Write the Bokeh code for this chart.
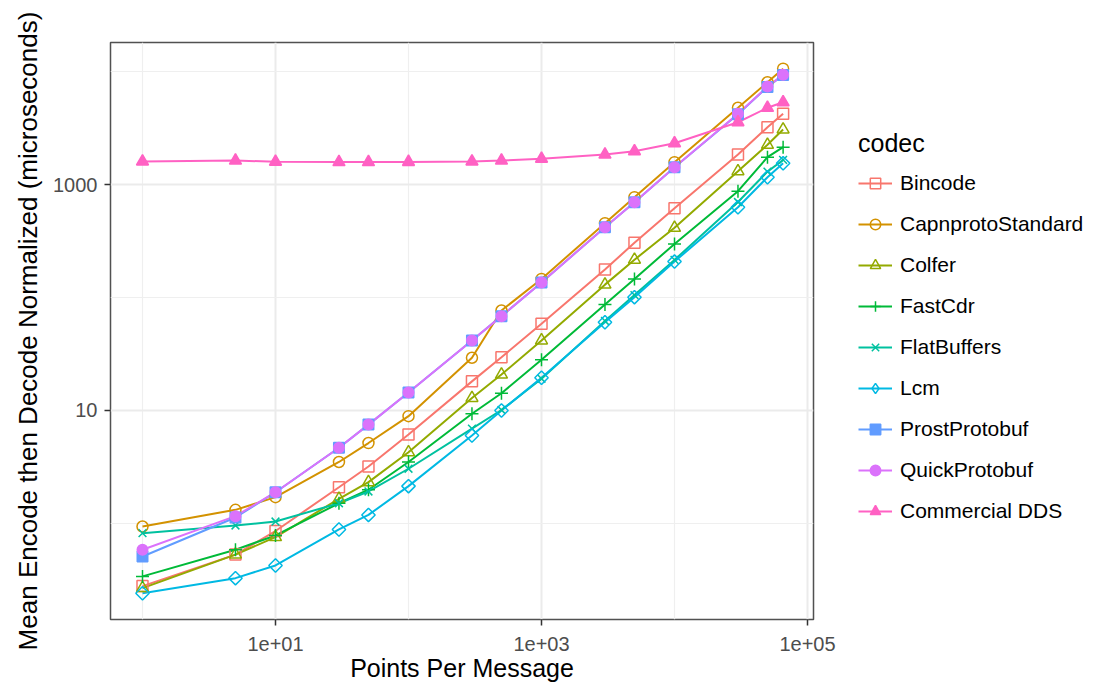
from bokeh.plotting import figure
from bokeh.models import Range1d, FixedTicker, Legend, LegendItem, Title
from bokeh.layouts import row
from bokeh.embed import file_html
from bokeh.resources import INLINE
import numpy as np

points = [1, 5, 10, 30, 50, 100, 300, 500, 1000, 3000, 5000, 10000, 30000, 50000, 65536]

codecs = ["Bincode", "CapnprotoStandard", "Colfer", "FastCdr", "FlatBuffers",
          "Lcm", "ProstProtobuf", "QuickProtobuf", "Commercial DDS"]

bincode = [0.279, 0.53, 0.857, 2.09, 3.19, 6.14, 18.1, 29.6, 58.5, 177, 305, 617, 1842, 3213, 4230]
capnproto = [0.94, 1.32, 1.71, 3.5, 5.15, 8.9, 29.3, 76.7, 146, 455, 772, 1575, 4780, 8040, 10600]
colfer = [0.268, 0.53, 0.757, 1.65, 2.32, 4.27, 12.9, 20.8, 41.7, 130, 216, 414, 1312, 2245, 3070]
fastcdr = [0.34, 0.585, 0.783, 1.51, 1.99, 3.5, 9.35, 14.2, 28.1, 86.7, 146, 298, 873, 1745, 2140]
flatbuffers = [0.82, 0.96, 1.04, 1.51, 1.92, 3.05, 6.9, 10.1, 19.1, 62, 105, 215, 700, 1300, 1650]
lcm = [0.241, 0.328, 0.425, 0.885, 1.19, 2.14, 6.0, 10.0, 19.5, 60.4, 100.7, 208, 630, 1161, 1544]
prost = [0.51, 1.13, 1.89, 4.68, 7.5, 14.4, 41.7, 68.4, 136, 419, 697, 1423, 4180, 7300, 9300]
quick = [0.585, 1.16, 1.89, 4.68, 7.5, 14.4, 41.7, 68.4, 136, 419, 697, 1423, 4230, 7360, 9350]
dds = [1600, 1630, 1590, 1580, 1580, 1585, 1600, 1630, 1690, 1842, 1971, 2319, 3556, 4776, 5348]

series = [bincode, capnproto, colfer, fastcdr, flatbuffers, lcm, prost, quick, dds]

x_ticks = [10, 1000, 100000]
x_tick_labels = ["1e+01", "1e+03", "1e+05"]
x_minor = [1, 100, 10000]
y_ticks = [10, 1000]
y_tick_labels = ["10", "1000"]
y_minor = [1, 100, 10000]

x_title = "Points Per Message"
y_title = "Mean Encode then Decode Normalized (microseconds)"

colors = ["#F8766D", "#D39200", "#93AA00", "#00BA38", "#00C19F",
          "#00B9E3", "#619CFF", "#DB72FB", "#FF61C3"]
markers = ["square", "circle", "triangle", "cross", "x", "square", "square", "circle", "triangle"]
legend_markers = ["square", "circle", "triangle", "cross", "x", "diamond", "square", "circle", "triangle"]
angles = [0, 0, 0, 0, 0, np.pi / 4, 0, 0, 0]
filled = [False, False, False, False, False, False, True, True, True]
sizes = [11, 11, 12, 13, 11, 9.5, 10.5, 10.5, 12]

FONT = "Liberation Sans"

# ---------------- main plot ----------------
p = figure(width=858, height=690, x_axis_type="log", y_axis_type="log",
           x_range=Range1d(10 ** -0.2406, 10 ** 5.045),
           y_range=Range1d(10 ** -0.850, 10 ** 4.257),
           output_backend="svg", toolbar_location=None,
           min_border_left=110, min_border_right=45, min_border_top=42, min_border_bottom=71,
           x_axis_label=x_title)

p.background_fill_color = "white"
p.border_fill_color = "white"
p.outline_line_color = "#333333"
p.outline_line_width = 1.5
p.outline_line_alpha = 0.85

p.xaxis.ticker = FixedTicker(ticks=x_ticks, minor_ticks=x_minor)
p.yaxis.ticker = FixedTicker(ticks=y_ticks, minor_ticks=y_minor)
p.xaxis.major_label_overrides = dict(zip(x_ticks, x_tick_labels))
p.yaxis.major_label_overrides = dict(zip(y_ticks, y_tick_labels))

for ax in (p.xaxis, p.yaxis):
    ax.axis_line_color = None
    ax.minor_tick_line_color = None
    ax.major_tick_line_color = "#333333"
    ax.major_tick_line_width = 1.5
    ax.major_tick_in = 0
    ax.major_tick_out = 6
    ax.major_label_text_font = FONT
    ax.major_label_text_font_size = "20px"
    ax.major_label_text_color = "#4D4D4D"
    ax.axis_label_text_font = FONT
    ax.axis_label_text_font_size = "25px"
    ax.axis_label_text_font_style = "normal"
    ax.axis_label_text_color = "black"

p.xaxis.major_label_standoff = 11
p.xaxis.axis_label_standoff = 0
p.yaxis.major_label_standoff = 7

ytitle = Title(text=y_title, align="center", standoff=16,
               text_font=FONT, text_font_size="26px", text_font_style="normal",
               text_color="black")
p.add_layout(ytitle, "left")

for g in (p.xgrid, p.ygrid):
    g.grid_line_color = "#EBEBEB"
    g.grid_line_width = 2
    g.minor_grid_line_color = "#EFEFEF"
    g.minor_grid_line_width = 1.2

for vals, c in zip(series, colors):
    p.line(points, vals, line_color=c, line_width=2)

for vals, c, m, a, f, s in zip(series, colors, markers, angles, filled, sizes):
    p.scatter(points, vals, marker=m, angle=a, size=s,
              line_color=c, line_width=1.5, fill_color=c if f else None)

# ---------------- legend panel ----------------
lg = figure(width=238, height=690, x_range=Range1d(0, 1), y_range=Range1d(0, 1),
            output_backend="svg", toolbar_location=None,
            min_border_left=0, min_border_right=0, min_border_top=0, min_border_bottom=0)
lg.axis.visible = False
lg.grid.visible = False
lg.outline_line_color = None
lg.background_fill_color = "white"
lg.border_fill_color = "white"

items = []
for name, c, m, f in zip(codecs, colors, legend_markers, filled):
    lr = lg.line([np.nan, np.nan], [np.nan, np.nan], line_color=c, line_width=2)
    sr = lg.scatter([np.nan], [np.nan], marker=m, line_color=c, line_width=1.5,
                    fill_color=c if f else None)
    items.append(LegendItem(label=name, renderers=[lr, sr]))

legend = Legend(items=items, location=(0, 95), orientation="vertical",
                title="codec", title_text_font=FONT, title_text_font_size="25px",
                title_text_font_style="normal", title_text_color="black",
                title_standoff=12,
                label_text_font=FONT, label_text_font_size="21px", label_text_color="black",
                label_standoff=8, glyph_width=34, glyph_height=26, label_height=26,
                spacing=15, padding=0, margin=0,
                background_fill_alpha=0, border_line_color=None)
lg.add_layout(legend)

layout = row(p, lg, spacing=0)
open("out.html", "w").write(file_html(layout, INLINE))
